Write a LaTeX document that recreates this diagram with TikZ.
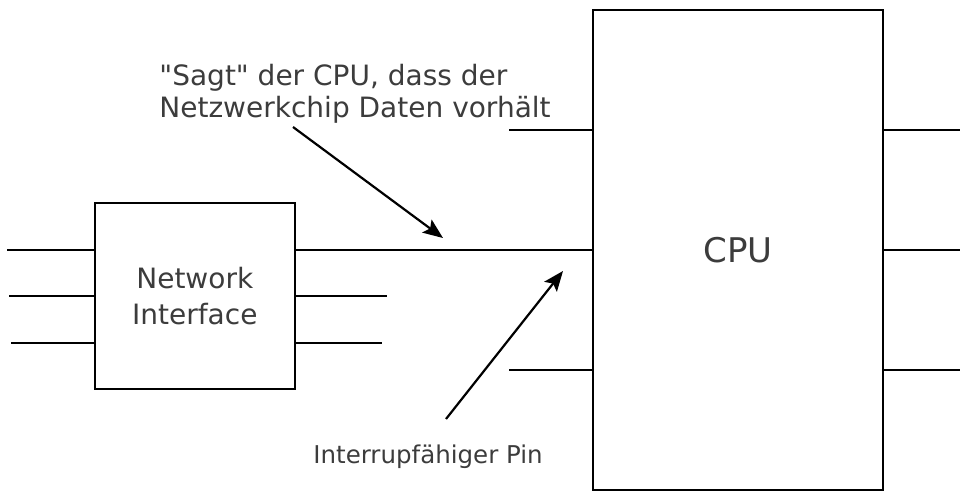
\documentclass[tikz,border=0pt]{standalone}
\usepackage{fontspec}
\setmainfont{DejaVu Sans}[Ligatures=TeXOff]
\usepackage{tikz}
\usetikzlibrary{arrows.meta,positioning}
\definecolor{LabelGray}{RGB}{60,60,60}

\begin{document}
\begin{tikzpicture}[
    x=0.5pt, y=-0.5pt,
    chip/.style   = {rectangle, draw=black, line width=1.1pt, fill=white,
                     text=LabelGray, align=center},
    note/.style   = {inner sep=0pt, text=LabelGray, align=left,
                     anchor=base west},
    wire/.style   = {line width=1.1pt, black},
    arr/.style    = {-{Stealth[length=10pt, width=8pt, inset=2pt]},
                     line width=1.1pt, black},
]
\useasboundingbox (0,0) rectangle (960,492);

% ─── CPU ─────────────────────────────────────────────────────────────────
\node[chip, minimum width=145pt, minimum height=240pt,
      font=\fontsize{17}{20}\selectfont] (cpu) at (738,250) {CPU};

\foreach \dy in {-120,120}
    \draw[wire] (cpu.west) ++(0,\dy) -- ++(-83,0);
\foreach \dy in {-120,0,120}
    \draw[wire] (cpu.east) ++(0,\dy) -- ++(77,0);

% ─── Network interface ───────────────────────────────────────────────────
\node[chip, minimum width=100pt, minimum height=93pt,
      font=\fontsize{14}{18}\selectfont,
      left=148pt of cpu, yshift=-23pt] (nic)
    {Network\\Interface};

\foreach \dy/\len in {-46/87, 0/85, 47/83}
    \draw[wire] (nic.west) ++(0,\dy) -- ++(-\len,0);
\draw[wire] (nic.east) ++(0,0) -- ++(91,0);
\draw[wire] (nic.east) ++(0,47) -- ++(86,0);

% interrupt line into the CPU
\draw[wire] ([yshift=23pt]nic.east) -- (cpu.west);

% ─── Annotations ─────────────────────────────────────────────────────────
\node[note, font=\fontsize{14}{16}\selectfont] (signal) at (159,118)
    {"Sagt" der CPU, dass der\\Netzwerkchip Daten vorhält};
\coordinate (signal_from) at (293,127);
\coordinate (signal_to)   at (443,238);
\draw[arr] (signal_from) -- (signal_to);

\node[note, font=\fontsize{12.25}{14}\selectfont] (pinlabel) at (313,463)
    {Interrupfähiger Pin};
\coordinate (pin_from) at (446,419);
\coordinate (pin_to)   at (563,271);
\draw[arr] (pin_from) -- (pin_to);

\end{tikzpicture}
\end{document}
